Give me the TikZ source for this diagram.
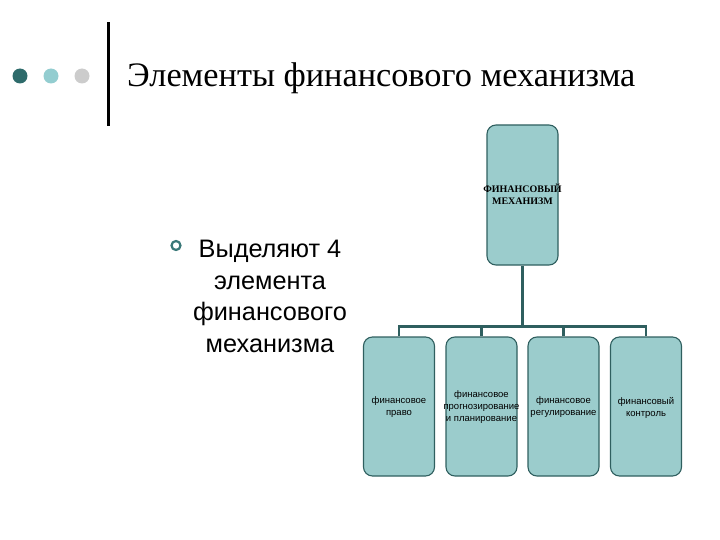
\documentclass[tikz,border=0pt]{standalone}
\usepackage{fontspec}
\setmainfont{Liberation Serif}
\newfontfamily\arialf{Liberation Sans}
\definecolor{boxfill}{HTML}{9BCCCC}
\definecolor{boxline}{HTML}{2F5F5F}
\definecolor{darkdot}{HTML}{2E6B6B}
\definecolor{lightdot}{HTML}{93CDD0}
\definecolor{greydot}{HTML}{CCCCCC}
\definecolor{bulletc}{HTML}{3A7878}
\tikzset{
  orgbox/.style={draw=boxline, line width=1.1pt, fill=boxfill, rounded corners=9pt, minimum width=71pt, minimum height=140pt, inner sep=0pt},
  subbox/.style={orgbox, minimum height=139pt},
  subtxt/.style={align=center, inner sep=0pt, font=\arialf\fontsize{9.5}{12}\selectfont},
  conn/.style={draw=boxline, line width=2.4pt},
}
\begin{document}
\begin{tikzpicture}[x=1pt,y=-1pt]
\useasboundingbox (0,0) rectangle (720,540);
% decorations
\fill[darkdot] (20,76) circle (7.5);
\fill[lightdot] (51,76) circle (7.5);
\fill[greydot] (82,76) circle (7.5);
\fill[black] (106.5,22) rectangle (109.5,126);
\node[anchor=base west, inner sep=0pt, font=\fontsize{34.3}{38}\selectfont] (title) at (127,87) {Элементы финансового механизма};
% bullet
\draw[bulletc, line width=2.2pt] (176,245.5) circle (4.5);
\node[anchor=north, align=center, inner sep=0pt, font=\arialf\fontsize{25.3}{31.5}\selectfont] (btxt) at (270,240) {Выделяют 4\\элемента\\финансового\\механизма};
% top box
\node[orgbox] (top) at (522.5,195) {};
\node[align=center, inner sep=0pt, font=\bfseries\fontsize{10}{12}\selectfont] (toptxt) at (522.5,194) {ФИНАНСОВЫЙ\\МЕХАНИЗМ};
% bottom boxes
\node[subbox] (b1) at (399,406.5) {};
\node[subbox] (b2) at (481.5,406.5) {};
\node[subbox] (b3) at (563.5,406.5) {};
\node[subbox] (b4) at (646,406.5) {};
\node[subtxt] (t1) at (399,407.5) {финансовое\\право};
\node[subtxt] (t2) at (481.5,407.5) {финансовое\\прогнозирование\\и планирование};
\node[subtxt] (t3) at (563.5,407.5) {финансовое\\регулирование};
\node[subtxt] (t4) at (646,407.5) {финансовый\\контроль};
% connectors
\coordinate (hub) at (522.5,326.5);
\draw[conn] (top.south) -- (hub);
\draw[conn] (b1.north) |- (hub);
\draw[conn] (b4.north) |- (hub);
\draw[conn] (b2.north) -- (b2.north |- hub);
\draw[conn] (b3.north) -- (b3.north |- hub);
\end{tikzpicture}
\end{document}
